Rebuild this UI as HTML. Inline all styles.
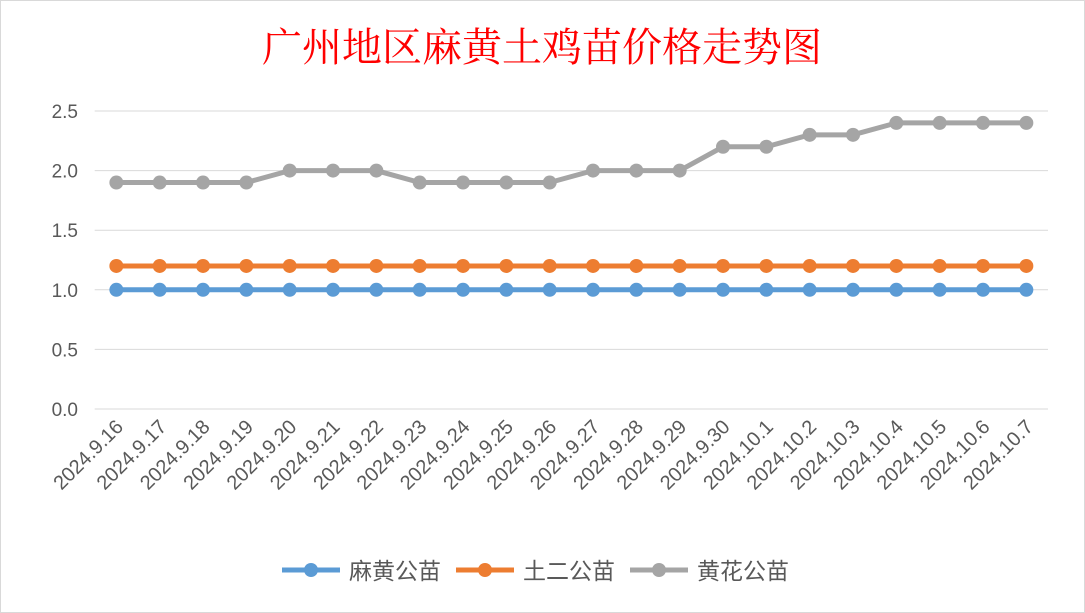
<!DOCTYPE html>
<html><head><meta charset="utf-8"><style>
body{margin:0;background:#fff;}
svg{display:block;font-family:"Liberation Sans","Noto Sans CJK SC",sans-serif;}
</style></head><body>
<svg id="chart" width="1085" height="613" viewBox="0 0 1085 613">
<rect x="0.5" y="0.5" width="1084" height="612" fill="#fff" stroke="#d9d9d9"/>
<text x="542" y="61" text-anchor="middle" font-size="40" fill="#ff0000" font-family="'Liberation Serif','Noto Serif CJK SC',serif">广州地区麻黄土鸡苗价格走势图</text>
<g id="grid"></g><g id="xlabels"></g><g id="series"></g><g id="legend"></g>
</svg>
<script>
const categories=["2024.9.16","2024.9.17","2024.9.18","2024.9.19","2024.9.20","2024.9.21","2024.9.22","2024.9.23","2024.9.24","2024.9.25","2024.9.26","2024.9.27","2024.9.28","2024.9.29","2024.9.30","2024.10.1","2024.10.2","2024.10.3","2024.10.4","2024.10.5","2024.10.6","2024.10.7"];
const mahuang=[1,1,1,1,1,1,1,1,1,1,1,1,1,1,1,1,1,1,1,1,1,1];
const tuer=[1.2,1.2,1.2,1.2,1.2,1.2,1.2,1.2,1.2,1.2,1.2,1.2,1.2,1.2,1.2,1.2,1.2,1.2,1.2,1.2,1.2,1.2];
const huanghua=[1.9,1.9,1.9,1.9,2.0,2.0,2.0,1.9,1.9,1.9,1.9,2.0,2.0,2.0,2.2,2.2,2.3,2.3,2.4,2.4,2.4,2.4];
const yTicks=[0,0.5,1.0,1.5,2.0,2.5];
const seriesNames=["麻黄公苗","土二公苗","黄花公苗"];
const colors=["#5b9bd5","#ed7d31","#a5a5a5"];
const NS="http://www.w3.org/2000/svg";
const L=94.7,R=1048,T=111,B=409;
const step=(R-L)/categories.length;
const x=i=>L+step*(i+0.5);
const y=v=>B-(v/2.5)*(B-T);
function mk(tag,attrs,parent){const e=document.createElementNS(NS,tag);for(const k in attrs)e.setAttribute(k,attrs[k]);parent.appendChild(e);return e;}
const grid=document.getElementById('grid');
yTicks.forEach(t=>{
 const l=mk('line',{x1:L,x2:R,y1:y(t),y2:y(t),stroke:'#d9d9d9','stroke-width':1},grid);
 
 
 const tx=mk('text',{x:78,y:y(t)+7,'text-anchor':'end','font-size':19,fill:'#595959'},grid);
 tx.textContent=t.toFixed(1);
 
 
});
const xl=document.getElementById('xlabels');
categories.forEach((c,i)=>{
 const tx=mk('text',{x:x(i)+8,y:428,'text-anchor':'end','font-size':20,fill:'#595959',transform:`rotate(-45 ${x(i)+8} 428)`},xl);
 tx.textContent=c;
 
 
});
const sg=document.getElementById('series');
[mahuang,tuer,huanghua].forEach((arr,s)=>{
 const g=mk('g',{},sg);
 
 
 const p=mk('polyline',{points:arr.map((v,i)=>x(i)+','+y(v)).join(' '),fill:'none',stroke:colors[s],'stroke-width':5,'stroke-linejoin':'round'},g);
 
 
 arr.forEach((v,i)=>{
  const c=mk('circle',{cx:x(i),cy:y(v),r:7,fill:colors[s]},g);
  
  
 });
});
const lg=document.getElementById('legend');
const lx=[282,456,630];
seriesNames.forEach((n,s)=>{
 const g=mk('g',{},lg);
 
 
 mk('line',{x1:lx[s],x2:lx[s]+58,y1:570,y2:570,stroke:colors[s],'stroke-width':5},g);
 mk('circle',{cx:lx[s]+29,cy:570,r:7,fill:colors[s]},g);
 const t=mk('text',{x:lx[s]+67,y:579,'font-size':23,fill:'#595959'},g);
 t.textContent=n;
});
</script>
</body></html>
